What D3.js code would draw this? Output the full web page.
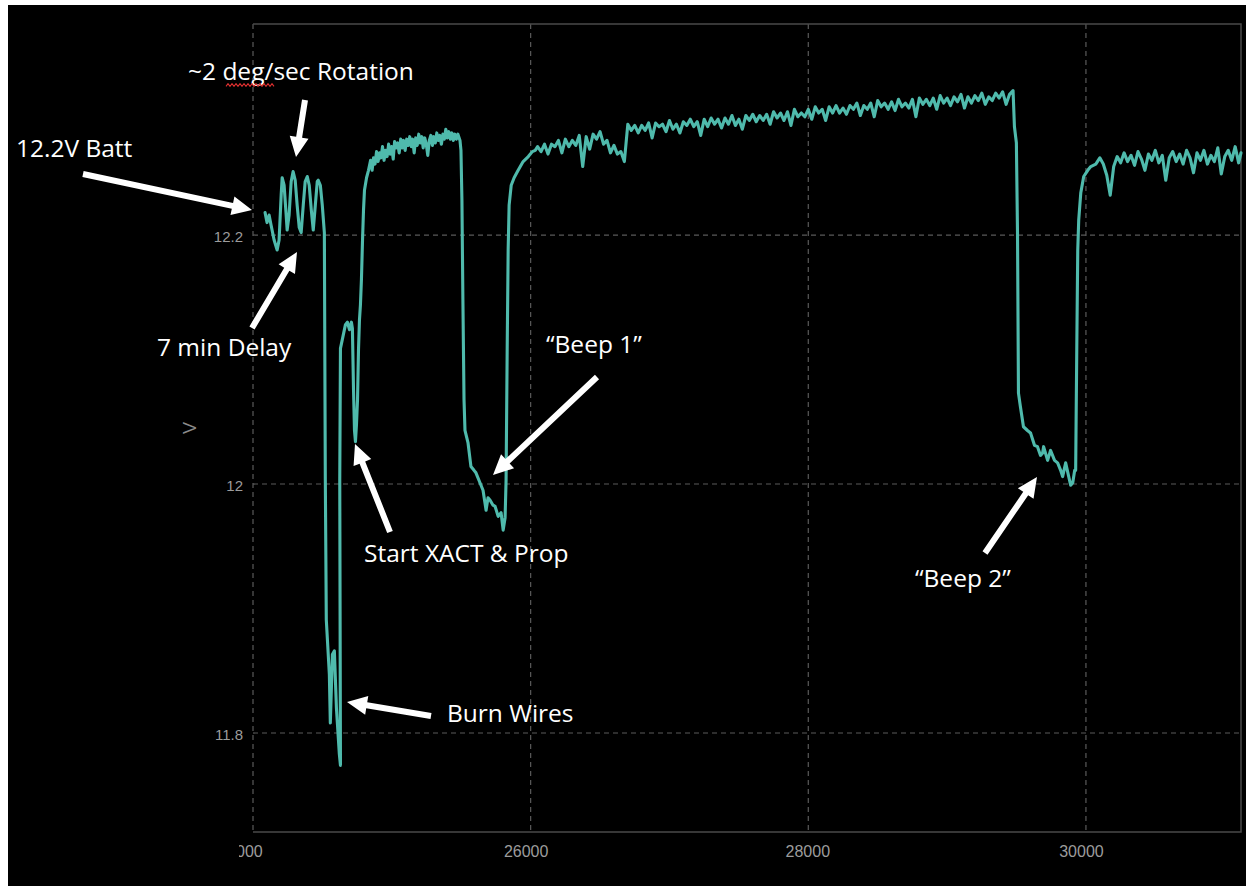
<!DOCTYPE html>
<html><head><meta charset="utf-8">
<script src="https://cdn.jsdelivr.net/npm/d3@7"></script>
<style>html,body{margin:0;padding:0;background:#fff;}svg{display:block;}</style>
</head><body>
<svg id="chart" width="1246" height="886"></svg>
<script>
// ---- data (time, volts) ----
const rotationPhase = [[24087,12.218],[24101,12.210],[24116,12.216],[24130,12.208],[24152,12.196],[24174,12.188],[24188,12.196],[24203,12.232],[24210,12.246],[24224,12.240],[24239,12.216],[24246,12.204],[24260,12.216],[24275,12.243],[24289,12.251],[24304,12.244],[24318,12.224],[24333,12.206],[24347,12.202],[24362,12.224],[24376,12.243],[24391,12.247],[24405,12.240],[24420,12.220],[24434,12.204],[24449,12.224],[24463,12.243],[24470,12.244],[24485,12.240],[24499,12.224],[24514,12.202]];
const burnPhase = [[24521,12.003],[24528,11.891],[24550,11.847],[24557,11.808],[24572,11.863],[24586,11.866],[24601,11.820],[24622,11.783],[24630,11.774],[24625,12.003],[24630,12.109],[24666,12.128],[24680,12.130],[24695,12.124],[24709,12.130],[24716,12.125],[24724,12.076],[24731,12.043],[24738,12.034],[24745,12.047],[24753,12.068],[24760,12.108],[24767,12.132],[24774,12.144],[24781,12.164],[24789,12.196],[24796,12.220],[24803,12.236],[24818,12.246],[24832,12.252]];
const plateau1 = [[24847,12.260],[24858,12.252],[24868,12.262],[24879,12.257],[24890,12.267],[24901,12.259],[24912,12.266],[24922,12.262],[24933,12.271],[24944,12.260],[24955,12.268],[24966,12.263],[24977,12.273],[24988,12.265],[24999,12.271],[25010,12.261],[25020,12.275],[25031,12.270],[25042,12.274],[25053,12.266],[25064,12.277],[25075,12.270],[25085,12.276],[25096,12.268],[25107,12.277],[25118,12.272],[25129,12.279],[25140,12.271],[25150,12.277],[25161,12.266],[25172,12.278],[25183,12.272],[25194,12.281],[25205,12.274],[25216,12.279],[25226,12.270],[25237,12.278],[25248,12.273],[25259,12.264],[25270,12.276],[25281,12.280],[25292,12.272],[25302,12.279],[25313,12.274],[25324,12.282],[25335,12.276],[25346,12.280],[25357,12.273],[25368,12.281],[25378,12.277],[25389,12.285],[25400,12.278],[25411,12.283],[25422,12.277],[25433,12.282],[25443,12.276],[25454,12.281],[25465,12.277],[25476,12.281],[25491,12.276]];
const beep1 = [[25498,12.268],[25505,12.228],[25512,12.148],[25520,12.068],[25527,12.043],[25549,12.033],[25570,12.014],[25592,12.011],[25606,12.009],[25635,12.001],[25657,11.995],[25679,11.979],[25693,11.989],[25708,11.987],[25729,11.983],[25744,11.982],[25766,11.974],[25787,11.977],[25802,11.963],[25816,11.973],[25823,12.003],[25831,12.108],[25838,12.188],[25845,12.224],[25860,12.240],[25881,12.246],[25910,12.252],[25946,12.259],[25983,12.263],[26012,12.267],[26033,12.268]];
const plateau2 = [[26050,12.271],[26075,12.267],[26100,12.273],[26125,12.265],[26150,12.273],[26175,12.271],[26200,12.276],[26225,12.266],[26250,12.277],[26275,12.271],[26300,12.276],[26325,12.272],[26350,12.280],[26375,12.255],[26400,12.279],[26425,12.269],[26450,12.281],[26475,12.277],[26500,12.283],[26525,12.273],[26550,12.276],[26575,12.266],[26600,12.272],[26625,12.265],[26650,12.267],[26675,12.259],[26700,12.289],[26725,12.284],[26750,12.288],[26775,12.282],[26800,12.288],[26825,12.284],[26850,12.290],[26875,12.278],[26900,12.290],[26925,12.287],[26950,12.289],[26975,12.283],[27000,12.292],[27025,12.285],[27050,12.289],[27075,12.282],[27100,12.291],[27125,12.288],[27150,12.293],[27175,12.287],[27200,12.291],[27225,12.280],[27250,12.293],[27275,12.287],[27300,12.294],[27325,12.289],[27350,12.293],[27375,12.286],[27400,12.294],[27425,12.289],[27450,12.296],[27475,12.288],[27500,12.293],[27525,12.285],[27550,12.296],[27575,12.292],[27600,12.297],[27625,12.291],[27650,12.296],[27675,12.292],[27700,12.297],[27725,12.289],[27750,12.299],[27775,12.294],[27800,12.298],[27825,12.292],[27850,12.299],[27875,12.288],[27900,12.301],[27925,12.295],[27950,12.298],[27975,12.295],[28000,12.301],[28025,12.293],[28050,12.303],[28075,12.298],[28100,12.301],[28125,12.292],[28150,12.303],[28175,12.298],[28200,12.304],[28225,12.298],[28250,12.302],[28275,12.297],[28300,12.304],[28325,12.301],[28350,12.306],[28375,12.296],[28400,12.304],[28425,12.301],[28450,12.306],[28475,12.295],[28500,12.308],[28525,12.303],[28550,12.306],[28575,12.301],[28600,12.307],[28625,12.300],[28650,12.309],[28675,12.303],[28700,12.306],[28725,12.302],[28750,12.309],[28775,12.295],[28800,12.310],[28825,12.305],[28850,12.309],[28875,12.304],[28900,12.310],[28925,12.301],[28950,12.312],[28975,12.306],[29000,12.310],[29025,12.304],[29050,12.311],[29075,12.307],[29100,12.313],[29125,12.302],[29150,12.311],[29175,12.306],[29200,12.312],[29225,12.308],[29250,12.314],[29275,12.305],[29300,12.311],[29325,12.308],[29350,12.314],[29375,12.310],[29400,12.315],[29425,12.305],[29450,12.313],[29475,12.316]];
const beep2 = [[29485,12.287],[29499,12.274],[29507,12.202],[29514,12.073],[29528,12.062],[29550,12.046],[29579,12.043],[29601,12.041],[29630,12.031],[29651,12.030],[29673,12.023],[29688,12.025],[29695,12.030],[29724,12.019],[29745,12.027],[29774,12.019],[29796,12.017],[29818,12.011],[29832,12.006],[29854,12.017],[29876,12.006],[29890,11.999],[29905,12.001],[29919,12.011],[29926,12.011],[29934,12.108],[29941,12.188],[29948,12.212],[29963,12.234],[29984,12.247],[30013,12.252],[30035,12.255],[30071,12.257]];
const plateau3 = [[30100,12.262],[30125,12.257],[30150,12.248],[30175,12.232],[30200,12.255],[30225,12.263],[30250,12.258],[30275,12.266],[30300,12.259],[30325,12.264],[30350,12.256],[30375,12.267],[30400,12.261],[30425,12.252],[30450,12.265],[30475,12.260],[30500,12.268],[30525,12.258],[30550,12.264],[30575,12.244],[30600,12.262],[30625,12.267],[30650,12.259],[30675,12.265],[30700,12.257],[30725,12.268],[30750,12.262],[30775,12.250],[30800,12.266],[30825,12.260],[30850,12.268],[30875,12.257],[30900,12.264],[30925,12.259],[30950,12.270],[30975,12.249],[31000,12.263],[31025,12.268],[31050,12.260],[31075,12.271],[31100,12.258],[31117,12.266]];

const xTicks = [24000, 26000, 28000, 30000];
const xTickLabels = ["24000", "26000", "28000", "30000"];
const yTicks = [11.8, 12.0, 12.2];
const yTickLabels = ["11.8", "12", "12.2"];
const yAxisLabel = "V";

const annotations = [
  {text: "12.2V Batt", x: 16, y: 157, from: [83, 174], to: [252, 210]},
  {text: "~2 deg/sec Rotation", x: 188, y: 80, from: [305, 100], to: [296, 157]},
  {text: "7 min Delay", x: 157, y: 356, from: [252, 328], to: [297, 252]},
  {text: "Start XACT & Prop", x: 364, y: 562, from: [390, 532], to: [355, 444]},
  {text: "\u201CBeep 1\u201D", x: 546, y: 353, from: [597, 377], to: [493, 475]},
  {text: "\u201CBeep 2\u201D", x: 915, y: 587, from: [985, 553], to: [1037, 477]},
  {text: "Burn Wires", x: 447, y: 722, from: [431, 716], to: [347, 702]}
];

// ---- drawing ----
const svg = d3.select("#chart");
const L = 253, R = 1241, T = 24, B = 832;

svg.append("rect").attr("x", 8).attr("y", 5).attr("width", 1238).attr("height", 881).attr("fill", "#000");

const x = d3.scaleLinear().domain([24000, 31117]).range([L, R]);
const y = d3.scaleLinear().domain([11.7205, 12.3695]).range([B, T]);

// gridlines
const grid = svg.append("g");
grid.selectAll(".vg").data(xTicks).join("line")
  .attr("x1", d => x(d)).attr("x2", d => x(d)).attr("y1", T).attr("y2", B)
  .attr("stroke", "#5a5a5a").attr("stroke-width", 1.2).attr("stroke-dasharray", "5,4");
grid.selectAll(".hg").data(yTicks).join("line")
  .attr("x1", L).attr("x2", R).attr("y1", d => y(d)).attr("y2", d => y(d))
  .attr("stroke", "#5a5a5a").attr("stroke-width", 1.2).attr("stroke-dasharray", "5,4");

// frame (top, right, bottom)
svg.append("path").attr("d", `M${L},${T}H${R}V${B}H${L}`)
  .attr("fill", "none").attr("stroke", "#4a4a4a").attr("stroke-width", 1.5);

// axes
const labelShift = [-13, -5, -1, -5];
const xAxis = d3.axisBottom(x).tickValues(xTicks).tickFormat((d, i) => xTickLabels[i]).tickSize(0).tickPadding(14);
const gx = svg.append("g").attr("transform", `translate(0,${B})`).call(xAxis);
gx.select(".domain").remove();
gx.selectAll("text").attr("fill", "#9c9c9c").attr("font-family", "Helvetica, Arial, 'Liberation Sans', sans-serif").attr("font-size", 16).attr("dx", (d, i) => labelShift[i]);
gx.append("clipPath").attr("id", "lblclip").append("rect").attr("x", 239).attr("y", 0).attr("width", 1008).attr("height", 50);
gx.attr("clip-path", "url(#lblclip)");

const yAxis = d3.axisLeft(y).tickValues(yTicks).tickFormat((d, i) => yTickLabels[i]).tickSize(0).tickPadding(10);
const gy = svg.append("g").attr("transform", `translate(${L},0)`).call(yAxis);
gy.select(".domain").remove();
gy.selectAll("text").attr("fill", "#9c9c9c").attr("font-family", "Helvetica, Arial, 'Liberation Sans', sans-serif").attr("font-size", 15).attr("dy", "0.4em");

svg.append("text").attr("transform", "translate(196,428) rotate(-90)")
  .attr("text-anchor", "middle").attr("fill", "#8a8a8a")
  .attr("font-family", "Helvetica, Arial, 'Liberation Sans', sans-serif").attr("font-size", 18)
  .text(yAxisLabel);

// data line
const series = [].concat(rotationPhase, burnPhase, plateau1, beep1, plateau2, beep2, plateau3);
const line = d3.line().x(d => x(d[0])).y(d => y(d[1]));
svg.append("path").datum(series).attr("d", line)
  .attr("fill", "none").attr("stroke", "#4fbaac").attr("stroke-width", 3.1)
  .attr("stroke-linejoin", "round").attr("stroke-linecap", "round");

// annotation arrows
function arrowPath(p0, p1) {
  const dx = p1[0] - p0[0], dy = p1[1] - p0[1];
  const len = Math.hypot(dx, dy);
  const ux = dx / len, uy = dy / len, nx = -uy, ny = ux;
  const hl = 20, hw = 9.5, sw = 3;
  const bx = p1[0] - ux * hl, by = p1[1] - uy * hl;
  const pts = [
    [p0[0] + nx * sw, p0[1] + ny * sw],
    [bx + nx * sw, by + ny * sw],
    [bx + nx * hw, by + ny * hw],
    [p1[0], p1[1]],
    [bx - nx * hw, by - ny * hw],
    [bx - nx * sw, by - ny * sw],
    [p0[0] - nx * sw, p0[1] - ny * sw]
  ];
  return "M" + pts.map(p => p.join(",")).join("L") + "Z";
}
const ann = svg.append("g");
ann.selectAll("path").data(annotations).join("path")
  .attr("d", d => arrowPath(d.from, d.to)).attr("fill", "#fff");
ann.selectAll("text").data(annotations).join("text")
  .attr("x", d => d.x).attr("y", d => d.y).attr("fill", "#fff")
  .attr("font-family", "'Open Sans', 'Noto Sans', sans-serif").attr("font-size", 24.5)
  .text(d => d.text);

// spell-check squiggle under "deg"
const sq = [];
for (let i = 0; i <= 24; i++) sq.push([226 + i * 2, 85 + (i % 2 ? -1.3 : 1.3)]);
svg.append("path").attr("d", d3.line()(sq)).attr("fill", "none").attr("stroke", "#e03030").attr("stroke-width", 1.1);
</script>
</body></html>
